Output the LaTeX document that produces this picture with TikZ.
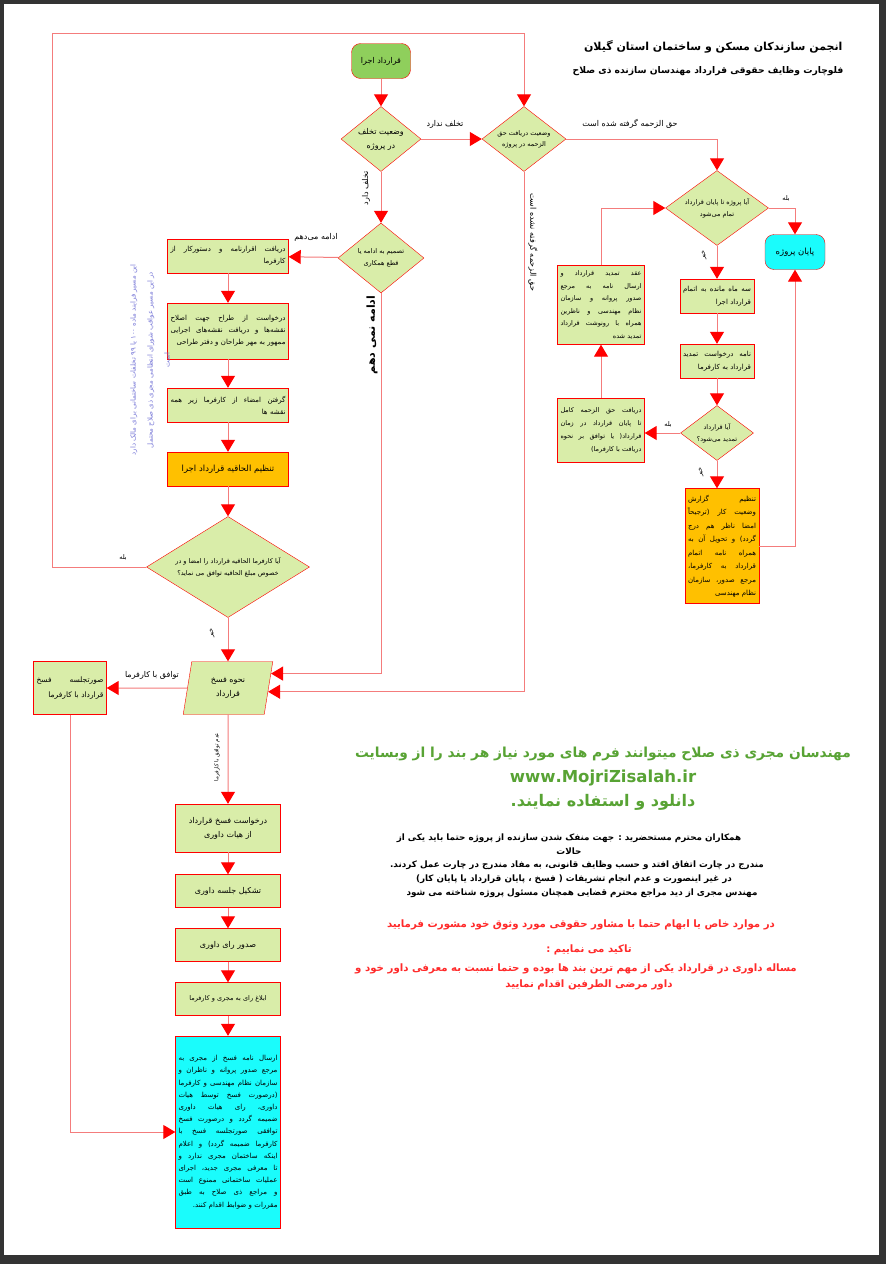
\documentclass[tikz,border=0pt]{standalone}
\usepackage{fontspec}
\usetikzlibrary{arrows.meta,shapes.geometric,calc}

\TeXXeTstate=1
\newfontfamily\persian[Script=Arabic]{DejaVu Sans}
\newcommand{\fa}[1]{\beginR#1\endR}
\newcommand{\dfa}[1]{\makebox[0pt]{\beginR#1\endR}}
\newcommand{\faj}[1]{\leavevmode\hbox to \hsize{\spaceskip=\fontdimen2\font plus 1fil\beginR#1\endR}}
\newcommand{\fal}[1]{\leavevmode\hbox to \hsize{\hfill\beginR#1\endR}}

\definecolor{boxgreen}{HTML}{D9EDA9}
\definecolor{startgreen}{HTML}{8FCF5C}
\definecolor{boxorange}{HTML}{FFC000}
\definecolor{boxcyan}{HTML}{1AFCFC}
\definecolor{linered}{HTML}{F47C7C}
\definecolor{webgreen}{HTML}{58A334}
\definecolor{notered}{HTML}{FF2A2A}
\definecolor{noteblue}{HTML}{7A7AD8}
\definecolor{pagedark}{HTML}{333333}

\begin{document}
\begin{tikzpicture}[x=1pt, y=-1pt,
  every node/.style={font=\persian\fontsize{7}{12}\selectfont},
  box/.style={rectangle, draw=red, fill=boxgreen, inner xsep=3pt,
    inner ysep=2pt, align=left},
  dec/.style={diamond, draw=red, fill=boxgreen, inner sep=0pt, align=center},
  term/.style={rectangle, rounded corners=9pt, draw=red, inner sep=2pt},
  conn/.style={draw=linered, line width=1pt,
    -{Triangle[width=14pt, length=12pt, color=red]}},
  lbl/.style={font=\persian\fontsize{8}{10}\selectfont, inner sep=1pt},
  smalllbl/.style={font=\persian\fontsize{6.5}{8}\selectfont, inner sep=1pt},
  titletext/.style={font=\persian\bfseries\fontsize{11}{13}\selectfont},
  webtext/.style={font=\persian\bfseries\fontsize{13.8}{16}\selectfont, text=webgreen},
  notetext/.style={font=\persian\bfseries\fontsize{8.8}{10}\selectfont},
  warntext/.style={font=\persian\bfseries\fontsize{10.2}{12}\selectfont, text=notered},
]

% Page
\useasboundingbox (0,0) rectangle (886,1264);
\fill[pagedark] (0,0) rectangle (886,1264);
\fill[white] (4,4) rectangle (879,1255);

% Title
\node[titletext, anchor=east] (title1) at (846,47)
  {\fa{انجمن سازندکان مسکن و ساختمان استان گیلان}};
\node[titletext, anchor=east, font=\persian\bfseries\fontsize{9.2}{11}\selectfont] (title2) at (847,71)
  {\fa{فلوچارت  وظایف حقوقی قرارداد مهندسان سازنده ذی صلاح}};

% Start and first decisions
\node[term, fill=startgreen, minimum width=59pt, minimum height=35pt,
  font=\persian\fontsize{8}{10}\selectfont] (start) at (381,61) {\fa{قرارداد اجرا}};
\node[dec, minimum width=80pt, minimum height=65pt, aspect=1.23,
  font=\persian\fontsize{8}{14}\selectfont] (d1) at (381,139)
  {\dfa{وضعیت تخلف}\\\dfa{در پروژه}};
\node[dec, minimum width=84pt, minimum height=65pt, aspect=1.29,
  font=\persian\fontsize{6.5}{11}\selectfont] (d2) at (524,139)
  {\dfa{وضعیت دریافت حق}\\\dfa{الزحمه در پروژه}};
\node[dec, minimum width=86pt, minimum height=70pt, aspect=1.23,
  font=\persian\fontsize{6.5}{12}\selectfont] (d3) at (381,258)
  {\dfa{تصمیم به ادامه یا}\\\dfa{قطع همکاری}};

% Left column: continue the work
\node[box, text width=115pt, minimum height=34pt] (b1) at (228,256)
  {\faj{دریافت اقرارنامه و دستورکار از}\\\fal{کارفرما}};
\node[box, text width=115pt, minimum height=56pt] (b2) at (228,331)
  {\faj{درخواست از طراح جهت اصلاح}\\\faj{نقشه‌ها و دریافت نقشه‌های اجرایی}\\\fal{ممهور به مهر طراحان و دفتر طراحی}};
\node[box, text width=115pt, minimum height=34pt] (b3) at (228,405)
  {\faj{گرفتن امضاء از کارفرما زیر همه}\\\fal{نقشه ها}};
\node[box, fill=boxorange, text width=115pt, minimum height=34pt, align=center,
  font=\persian\fontsize{8.5}{10}\selectfont] (b4) at (228,469)
  {\fa{تنظیم الحاقیه قرارداد اجرا}};
\node[dec, minimum width=163pt, minimum height=101pt, aspect=1.61,
  font=\persian\fontsize{6.5}{12}\selectfont] (d4) at (228,567)
  {\dfa{آیا کارفرما الحاقیه قرارداد را امضا و در}\\\dfa{خصوص مبلغ الحاقیه توافق می نماید؟}};

% Side note
\node[font=\persian\fontsize{7}{17}\selectfont, text=noteblue, rotate=90,
  align=center] (note) at (150,360)
  {\fa{این مسیر فرایند ماده ۱۰۰ یا ۹۹ تخلفات ساختمانی برای مالک دارد}\\
   \fa{در این مسیر عواقب شورای انتظامی مجری ذی صلاح محتمل}\\\fa{است}};

% Termination
\node[trapezium, trapezium left angle=79, trapezium right angle=101,
  trapezium stretches=true, draw=red, fill=boxgreen, inner sep=0pt,
  minimum width=90pt, minimum height=53pt, align=center,
  font=\persian\fontsize{8}{14}\selectfont] (p) at (228,688)
  {\fa{نحوه فسخ}\\\fa{قرارداد}};
\node[box, text width=67pt, minimum height=53pt,
  font=\persian\fontsize{7.5}{15}\selectfont] (l) at (70,688)
  {\faj{صورتجلسه  فسخ}\\\fal{قرارداد با کارفرما}};
\node[box, text width=99pt, minimum height=48pt, align=center,
  font=\persian\fontsize{8}{14}\selectfont] (a1) at (228,828)
  {\fa{درخواست فسخ قرارداد}\\\fa{از هیات داوری}};
\node[box, text width=99pt, minimum height=33pt, align=center,
  font=\persian\fontsize{8}{10}\selectfont] (a2) at (228,891) {\fa{تشکیل جلسه داوری}};
\node[box, text width=99pt, minimum height=33pt, align=center,
  font=\persian\fontsize{8}{10}\selectfont] (a3) at (228,945) {\fa{صدور رای داوری}};
\node[box, text width=99pt, minimum height=33pt, align=center,
  font=\persian\fontsize{6.5}{10}\selectfont] (a4) at (228,999) {\fa{ابلاغ رای به مجری و کارفرما}};
\node[box, fill=boxcyan, text width=99pt, minimum height=192pt,
  font=\persian\fontsize{7}{12.2}\selectfont] (a5) at (228,1132)
  {\faj{ارسال نامه فسخ از مجری به}\\
   \faj{مرجع صدور پروانه و ناظران و}\\
   \faj{سازمان نظام مهندسی و کارفرما}\\
   \faj{(درصورت فسخ توسط هیات}\\
   \faj{داوری، رای هیات داوری}\\
   \faj{ضمیمه گردد و درصورت فسخ}\\
   \faj{توافقی صورتجلسه فسخ با}\\
   \faj{کارفرما ضمیمه گردد) و اعلام}\\
   \faj{اینکه ساختمان مجری ندارد و}\\
   \faj{تا معرفی مجری جدید، اجرای}\\
   \faj{عملیات ساختمانی ممنوع است}\\
   \faj{و مراجع ذی صلاح به طبق}\\
   \fal{مقررات و ضوابط اقدام کنند.}};

% Right column: fee received
\node[dec, minimum width=103pt, minimum height=75pt, aspect=1.37,
  font=\persian\fontsize{6.5}{12}\selectfont] (d5) at (717,208)
  {\dfa{آیا پروژه تا پایان قرارداد}\\\dfa{تمام می‌شود}};
\node[term, fill=boxcyan, minimum width=60pt, minimum height=35pt,
  font=\persian\fontsize{8.5}{10}\selectfont] (finish) at (795,252) {\fa{پایان پروژه}};
\node[box, text width=68pt, minimum height=34pt,
  font=\persian\fontsize{7}{13}\selectfont] (r1) at (717,296)
  {\faj{سه ماه مانده به اتمام}\\\fal{قرارداد اجرا}};
\node[box, text width=68pt, minimum height=34pt,
  font=\persian\fontsize{7}{13}\selectfont] (r2) at (717,361)
  {\faj{نامه درخواست تمدید}\\\fal{قرارداد به کارفرما}};
\node[dec, minimum width=73pt, minimum height=55pt, aspect=1.33,
  font=\persian\fontsize{6.5}{12}\selectfont] (d6) at (717,433)
  {\dfa{آیا قرارداد}\\\dfa{تمدید می‌شود؟}};
\node[box, text width=81pt, minimum height=64pt,
  font=\persian\fontsize{6.5}{13}\selectfont] (l2) at (601,430)
  {\faj{دریافت حق الزحمه کامل}\\\faj{تا پایان قرارداد در زمان}\\
   \faj{قرارداد( یا توافق بر نحوه}\\\fal{دریافت با کارفرما)}};
\node[box, text width=81pt, minimum height=79pt,
  font=\persian\fontsize{6.5}{12.5}\selectfont] (l1) at (601,305)
  {\faj{عقد تمدید قرارداد و}\\\faj{ارسال نامه به مرجع}\\
   \faj{صدور پروانه و سازمان}\\\faj{نظام مهندسی و ناظرین}\\
   \faj{همراه با رونوشت قرارداد}\\\fal{تمدید شده}};
\node[box, fill=boxorange, text width=68pt, minimum height=115pt,
  font=\persian\fontsize{7}{13.5}\selectfont] (o2) at (722,546)
  {\faj{تنظیم گزارش}\\\faj{وضعیت کار (ترجیحاً}\\
   \faj{امضا ناظر هم درج}\\\faj{گردد) و تحویل آن به}\\
   \faj{همراه نامه اتمام}\\\faj{قرارداد به کارفرما،}\\
   \faj{مرجع صدور، سازمان}\\\fal{نظام مهندسی}};

% Connectors
\coordinate (loopcorner) at (52,33);
\draw[conn] (start) -- (d1);
\draw[conn] (d1) -- (d2);
\draw[conn] (d1) -- (d3);
\draw[conn] (d3) -- (b1);
\draw[conn] (b1) -- (b2);
\draw[conn] (b2) -- (b3);
\draw[conn] (b3) -- (b4);
\draw[conn] (b4) -- (d4);
\draw[conn] (d4) -- (p);
\draw[conn] (d4.west) -| (loopcorner) -| (d2.north);
\draw[conn] (d3.south) |- ($(p.top right corner)!0.23!(p.bottom right corner)$);
\draw[conn] (d2.south) |- ($(p.top right corner)!0.57!(p.bottom right corner)$);
\draw[conn] (p) -- (l);
\draw[conn] (l.south) |- (a5.west);
\draw[conn] (p) -- (a1);
\draw[conn] (a1) -- (a2);
\draw[conn] (a2) -- (a3);
\draw[conn] (a3) -- (a4);
\draw[conn] (a4) -- (a5);
\draw[conn] (d2.east) -| (d5.north);
\draw[conn] (d5.east) -| (finish.north);
\draw[conn] (d5) -- (r1);
\draw[conn] (r1) -- (r2);
\draw[conn] (r2) -- (d6);
\draw[conn] (d6.west) -- (d6.west -| l2.east);
\draw[conn] (l2) -- (l1);
\draw[conn] (l1.north) |- (d5.west);
\draw[conn] (d6.south) -- (d6.south |- o2.north);
\draw[conn] (o2.east) -| (finish.south);

% Connector labels
\node[lbl] (noviol) at (445,124) {\fa{تخلف ندارد}};
\node[lbl] (feepaid) at (630,124) {\fa{حق الزحمه گرفته شده است}};
\node[smalllbl] (yes1) at (786,199) {\fa{بله}};
\node[lbl] (goon) at (316,237) {\fa{ادامه می‌دهم}};
\node[lbl, rotate=90] (viol) at (366,188) {\fa{تخلف دارد}};
\node[lbl, rotate=-90] (feeunpaid) at (533,242) {\fa{حق الزحمه گرفته نشده است}};
\node[lbl, rotate=90, font=\persian\bfseries\fontsize{11}{13}\selectfont] (stop) at (372,335)
  {\fa{ادامه نمی دهم}};
\node[smalllbl, rotate=90] (no1) at (704,255) {\fa{خیر}};
\node[smalllbl] (yes2) at (668,425) {\fa{بله}};
\node[smalllbl, rotate=90] (no2) at (701,472) {\fa{خیر}};
\node[smalllbl] (yes3) at (123,557) {\fa{بله}};
\node[smalllbl, rotate=90] (no3) at (212,633) {\fa{خیر}};
\node[lbl] (agree) at (152,675) {\fa{توافق با کارفرما}};
\node[smalllbl, rotate=90, font=\persian\fontsize{5.5}{7}\selectfont] (disagree) at (217,757)
  {\fa{عدم توافق با کارفرما}};

% Notes below
\node[webtext] (web1) at (603,754)
  {\fa{مهندسان مجری ذی صلاح میتوانند فرم های مورد نیاز هر بند را از وبسایت}};
\node[webtext, font=\persian\bfseries\fontsize{16.5}{18}\selectfont] (web2) at (603,778)
  {www.MojriZisalah.ir};
\node[webtext, font=\persian\bfseries\fontsize{16}{18}\selectfont] (web3) at (603,802)
  {\fa{دانلود و استفاده نمایند.}};

\node[notetext] (note1) at (569,838)
  {\fa{همکاران محترم مستحضرید : جهت منفک شدن سازنده از پروژه حتما باید یکی از}};
\node[notetext] (note2) at (569,851) {\fa{حالات}};
\node[notetext] (note3) at (577,865)
  {\fa{مندرج در چارت اتفاق افتد و حسب وظایف قانونی، به مفاد مندرج در چارت عمل کردند.}};
\node[notetext] (note4) at (574,879)
  {\fa{در غیر اینصورت و عدم انجام تشریفات ( فسخ ، پایان قرارداد یا پایان کار)}};
\node[notetext] (note5) at (582,893)
  {\fa{مهندس مجری  از دید مراجع محترم قضایی همچنان مسئول پروژه شناخته می شود}};

\node[warntext] (warn1) at (581,925)
  {\fa{در موارد خاص یا ابهام حتما با مشاور حقوقی مورد وثوق خود مشورت فرمایید}};
\node[warntext] (warn2) at (589,950) {\fa{تاکید می نماییم :}};
\node[warntext] (warn3) at (576,969)
  {\fa{مساله داوری در قرارداد یکی از مهم ترین بند ها بوده و حتما نسبت به معرفی داور خود و}};
\node[warntext] (warn4) at (589,985) {\fa{داور مرضی الطرفین اقدام نمایید}};

\end{tikzpicture}
\end{document}
